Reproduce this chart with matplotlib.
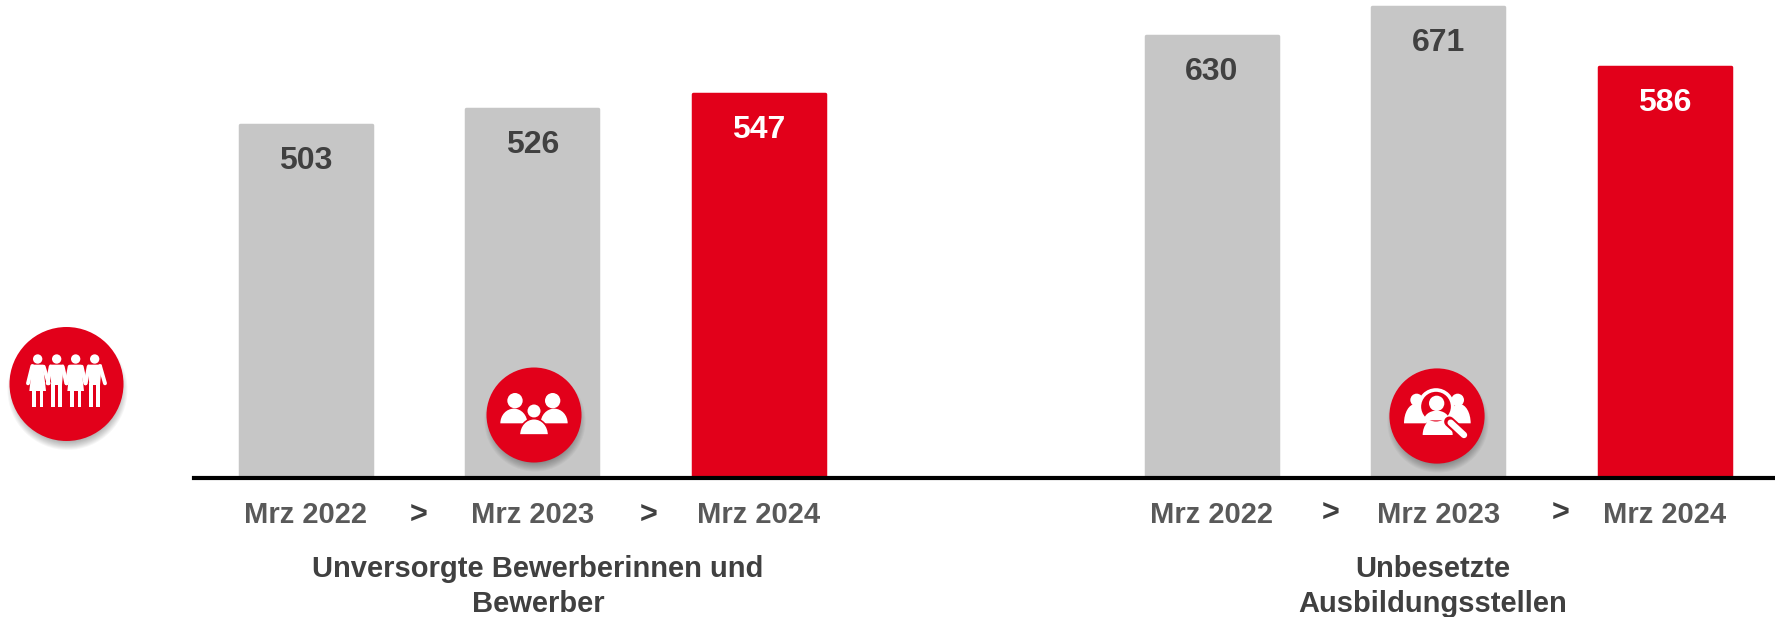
#!/usr/bin/env python3
"""
Unversorgte Bewerber vs. unbesetzte Ausbildungsstellen, Mrz 2022-2024
"""

import matplotlib
matplotlib.use('Agg')
import matplotlib.pyplot as plt
from matplotlib.patches import Circle, Polygon, PathPatch
from matplotlib.path import Path

# Data
positions = [0, 1, 2, 4, 5, 6]
values = [503, 526, 547, 630, 671, 586]
tick_labels = ['Mrz 2022', 'Mrz 2023', 'Mrz 2024', 'Mrz 2022', 'Mrz 2023', 'Mrz 2024']
group_titles = ['Unversorgte Bewerberinnen und\nBewerber', 'Unbesetzte\nAusbildungsstellen']

RED = '#E2001A'
GREY = '#C6C6C6'
DARK = '#404040'
TICK = '#595959'
W, H = 1775, 617

plt.rcParams['font.family'] = ['Liberation Sans', 'DejaVu Sans']

fig = plt.figure(figsize=(W / 100, H / 100), dpi=100)

# Main axes: baseline at y=477.5 px, runs from x=194 px to the right edge
ax = fig.add_axes([194 / W, (H - 477.5) / H, 1 - 194 / W, 477.5 / H])
ax.set_xlim(-0.493, 6.487)
ax.set_ylim(0, 678.7)
ax.patch.set_alpha(0)

colors = [GREY, GREY, RED, GREY, GREY, RED]
for p, v, c in zip(positions, values, colors):
    # the round-joined edge gives the slightly rounded top corners
    ax.bar(p, v - 2, width=0.583, color=c, edgecolor=c, linewidth=2.5, joinstyle='round', zorder=2)
    ax.annotate(str(v), (p, v), xytext=(0, -27), textcoords='offset points',
                ha='center', va='center', fontsize=23, fontweight='bold',
                color='white' if c == RED else DARK, zorder=3)

for s in ['top', 'left', 'right']:
    ax.spines[s].set_visible(False)
ax.spines['bottom'].set_linewidth(3)
ax.spines['bottom'].set_color('black')
ax.spines['bottom'].set_zorder(4)
ax.set_yticks([])
ax.set_xticks(positions)
ax.set_xticklabels(tick_labels, fontsize=21, fontweight='bold', color=TICK)
ax.tick_params(axis='x', length=0, pad=17)

# Overlay in pixel coordinates for separators, group titles and icons
ov = fig.add_axes([0, 0, 1, 1])
ov.set_xlim(0, W)
ov.set_ylim(H, 0)
ov.axis('off')
ov.patch.set_alpha(0)

for x, y in [(419, 516), (649, 516), (1331, 514), (1561, 514)]:
    ov.text(x, y, '>', ha='center', va='center', fontsize=22, fontweight='bold', color=DARK)

ov.text(538, 586.5, group_titles[0], ha='center', va='center', fontsize=21, fontweight='bold',
        color=DARK, linespacing=1.3)
ov.text(1433, 586.5, group_titles[1], ha='center', va='center', fontsize=21, fontweight='bold',
        color=DARK, linespacing=1.3)


def badge(cx, cy, r):
    # red disc with a soft shadow below it
    for i in range(10):
        ov.add_patch(Circle((cx + 1, cy + 6), r + 3 - i * 1.0, color='black', alpha=0.035, lw=0))
    ov.add_patch(Circle((cx, cy), r, color=RED, lw=0))


def dome(x0, x1, ytop, ybot, **kw):
    # shoulder shape: flat bottom, curved top
    xm = (x0 + x1) / 2
    w = x1 - x0
    h = ybot - ytop
    verts = [(x0, ybot), (x0, ybot - 0.55 * h), (x0 + 0.22 * w, ytop), (xm, ytop),
             (x1 - 0.22 * w, ytop), (x1, ybot - 0.55 * h), (x1, ybot), (x0, ybot)]
    codes = [Path.MOVETO, Path.CURVE4, Path.CURVE4, Path.CURVE4,
             Path.CURVE4, Path.CURVE4, Path.CURVE4, Path.CLOSEPOLY]
    ov.add_patch(PathPatch(Path(verts, codes), **kw))


# People icon (left)
badge(66.5, 384, 57)
ox, oy = 0, 320


def z(x, y):
    return (ox + x / 3, oy + y / 3)


for i, hx in enumerate([113, 170, 227, 284]):
    ov.add_patch(Circle(z(hx, 117), 14 / 3, color='white', lw=0))
    if i % 2 == 0:
        pts = [(hx - 16, 134), (hx + 16, 134), (hx + 25, 213), (hx - 25, 213)]
    else:
        pts = [(hx - 21, 134), (hx + 21, 134), (hx + 16, 195), (hx - 16, 195)]
    ov.add_patch(Polygon([z(*q) for q in pts], color='white', lw=0))
    ts = 12 if i % 2 == 1 else 10
    for lx in (-11, 11):
        leg = [(hx + lx - ts / 2, 190), (hx + lx + ts / 2, 190), (hx + lx + ts / 2, 262), (hx + lx - ts / 2, 262)]
        ov.add_patch(Polygon([z(*q) for q in leg], color='white', lw=0))
for a, b in [((97, 138), (84, 190)), ((300, 138), (315, 190)),
             ((131, 140), (146, 190)), ((152, 140), (143, 190)),
             ((188, 140), (199, 190)), ((209, 140), (200, 190)),
             ((245, 140), (256, 190)), ((266, 140), (257, 190))]:
    ov.plot(*zip(z(*a), z(*b)), color='white', lw=2.8, solid_capstyle='round')

# Group icon (middle)
badge(534, 415, 47.5)
ox, oy = 470, 350
for hx in (135, 248):
    ov.add_patch(Circle(z(hx, 152), 23 / 3, color='white', lw=0))
x0, y0 = z(91, 176)
x1, y1 = z(172, 220)
dome(x0, x1, y0, y1, color='white', lw=0)
x0, y0 = z(212, 176)
x1, y1 = z(293, 220)
dome(x0, x1, y0, y1, color='white', lw=0)
ov.add_patch(Circle(z(192, 183), 22 / 3, facecolor='white', edgecolor=RED, lw=1.2))
x0, y0 = z(148, 206)
x1, y1 = z(236, 255)
dome(x0, x1, y0, y1, facecolor='white', edgecolor=RED, lw=1.2)

# Search icon (right)
badge(1437, 416, 47.6)
ox, oy = 1360, 340
for hx in (170, 293):
    ov.add_patch(Circle(z(hx, 180), 19 / 3, color='white', lw=0))
x0, y0 = z(132, 192)
x1, y1 = z(200, 250)
dome(x0, x1, y0, y1, color='white', lw=0)
x0, y0 = z(264, 192)
x1, y1 = z(332, 250)
dome(x0, x1, y0, y1, color='white', lw=0)
x0, y0 = z(188, 232)
x1, y1 = z(278, 285)
dome(x0, x1, y0, y1, color='white', lw=0)
ov.add_patch(Circle(z(228, 200), 50 / 3, facecolor=RED, edgecolor='white', lw=2.6))
ov.add_patch(Circle(z(230, 190), 23 / 3, color='white', lw=0))
x0, y0 = z(192, 212)
x1, y1 = z(268, 241)
dome(x0, x1, y0, y1, color='white', lw=0)
ov.plot(*zip(z(268, 245), z(312, 285)), color=RED, lw=7.5, solid_capstyle='round')
ov.plot(*zip(z(272, 248), z(312, 285)), color='white', lw=4.6, solid_capstyle='round')

fig.savefig('out.png', dpi=100)
